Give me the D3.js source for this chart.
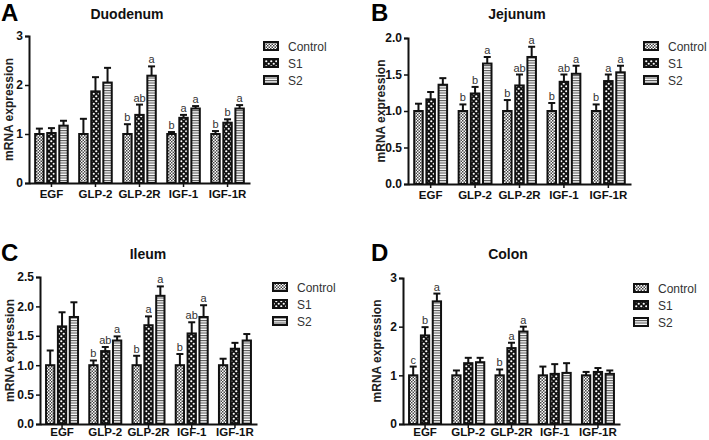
<!DOCTYPE html>
<html>
<head>
<meta charset="utf-8">
<script src="https://cdn.jsdelivr.net/npm/d3@7"></script>
<style>
  html, body { margin: 0; padding: 0; background: #fff; }
  svg { display: block; font-family: "Liberation Sans", Arial, sans-serif; }
</style>
</head>
<body>
<svg id="chart" width="709" height="440"></svg>
<script>
// ---------- DATA ----------
const categories = ["EGF", "GLP-2", "GLP-2R", "IGF-1", "IGF-1R"];
const seriesNames = ["Control", "S1", "S2"];

// Duodenum (A)
const duodenumControl = [1.0, 1.0, 1.0, 1.0, 1.0];
const duodenumS1 = [1.02, 1.87, 1.39, 1.33, 1.23];
const duodenumS2 = [1.17, 2.05, 2.19, 1.52, 1.52];
const duodenumControlErr = [0.11, 0.31, 0.2, 0.04, 0.06];
const duodenumS1Err = [0.1, 0.29, 0.21, 0.06, 0.07];
const duodenumS2Err = [0.1, 0.3, 0.19, 0.05, 0.07];
const duodenumLetters = [["", "", ""], ["", "", ""], ["b", "ab", "a"], ["b", "a", "a"], ["b", "b", "a"]];
const duodenumTicks = [0, 1, 2, 3];

// Jejunum (B)
const jejunumControl = [1.0, 1.0, 1.0, 1.0, 1.0];
const jejunumS1 = [1.16, 1.24, 1.35, 1.4, 1.41];
const jejunumS2 = [1.36, 1.65, 1.74, 1.51, 1.53];
const jejunumControlErr = [0.1, 0.09, 0.15, 0.11, 0.09];
const jejunumS1Err = [0.1, 0.09, 0.15, 0.1, 0.09];
const jejunumS2Err = [0.09, 0.09, 0.14, 0.11, 0.09];
const jejunumLetters = [["", "", ""], ["b", "b", "a"], ["b", "ab", "a"], ["b", "ab", "a"], ["b", "a", "a"]];
const jejunumTicks = [0, 0.5, 1.0, 1.5, 2.0];

// Ileum (C)
const ileumControl = [1.0, 1.0, 1.0, 1.0, 1.0];
const ileumS1 = [1.66, 1.24, 1.68, 1.54, 1.28];
const ileumS2 = [1.82, 1.42, 2.18, 1.82, 1.42];
const ileumControlErr = [0.25, 0.08, 0.16, 0.19, 0.11];
const ileumS1Err = [0.24, 0.07, 0.15, 0.19, 0.1];
const ileumS2Err = [0.25, 0.07, 0.16, 0.2, 0.11];
const ileumLetters = [["", "", ""], ["b", "ab", "a"], ["b", "a", "a"], ["b", "ab", "a"], ["", "", ""]];
const ileumTicks = [0, 0.5, 1.0, 1.5, 2.0, 2.5];

// Colon (D)
const colonControl = [1.0, 1.0, 1.0, 1.0, 1.0];
const colonS1 = [1.82, 1.25, 1.56, 1.03, 1.07];
const colonS2 = [2.52, 1.27, 1.9, 1.05, 1.03];
const colonControlErr = [0.18, 0.1, 0.12, 0.18, 0.07];
const colonS1Err = [0.17, 0.11, 0.11, 0.2, 0.08];
const colonS2Err = [0.16, 0.09, 0.1, 0.2, 0.07];
const colonLetters = [["c", "b", "a"], ["", "", ""], ["b", "a", "a"], ["", "", ""], ["", "", ""]];
const colonTicks = [0, 1, 2, 3];

// ---------- PATTERNS ----------
const svg = d3.select("#chart");
const defs = svg.append("defs");

// Control: fine checker
const pCtrl = defs.append("pattern").attr("id", "pCtrl").attr("patternUnits", "userSpaceOnUse")
  .attr("width", 3).attr("height", 3);
pCtrl.append("rect").attr("width", 3).attr("height", 3).attr("fill", "#fff");
pCtrl.append("rect").attr("x", 0).attr("y", 0).attr("width", 1.5).attr("height", 1.5).attr("fill", "#444");
pCtrl.append("rect").attr("x", 1.5).attr("y", 1.5).attr("width", 1.5).attr("height", 1.5).attr("fill", "#444");

// S1: coarse checker
const pS1 = defs.append("pattern").attr("id", "pS1").attr("patternUnits", "userSpaceOnUse")
  .attr("width", 5).attr("height", 5);
pS1.append("rect").attr("width", 5).attr("height", 5).attr("fill", "#111");
pS1.append("circle").attr("cx", 1.25).attr("cy", 1.25).attr("r", 1.1).attr("fill", "#fff");
pS1.append("circle").attr("cx", 3.75).attr("cy", 3.75).attr("r", 1.1).attr("fill", "#fff");

// S2: horizontal stripes
const pS2 = defs.append("pattern").attr("id", "pS2").attr("patternUnits", "userSpaceOnUse")
  .attr("width", 4).attr("height", 2.5);
pS2.append("rect").attr("width", 4).attr("height", 2.5).attr("fill", "#fff");
pS2.append("rect").attr("y", 0).attr("width", 4).attr("height", 1.1).attr("fill", "#555");

const fills = ["url(#pCtrl)", "url(#pS1)", "url(#pS2)"];

// ---------- PANEL DRAW ----------
function drawPanel(cfg) {
  const g = svg.append("g");
  const series = [cfg.control, cfg.s1, cfg.s2];
  const errs = [cfg.controlErr, cfg.s1Err, cfg.s2Err];
  const yMax = cfg.ticks[cfg.ticks.length - 1];

  const x0 = d3.scaleBand().domain(categories).range([cfg.left, cfg.right])
    .paddingInner(0.26).paddingOuter(0.14);
  const x1 = d3.scaleBand().domain(seriesNames).range([0, x0.bandwidth()]).paddingInner(0.3);
  const y = d3.scaleLinear().domain([0, yMax]).range([cfg.bottom, cfg.top]);

  // panel letter
  g.append("text").attr("x", cfg.letterX).attr("y", cfg.letterY)
    .attr("font-size", 24).attr("font-weight", "bold").attr("fill", "#000").text(cfg.letter);
  // title
  g.append("text").attr("x", cfg.titleX).attr("y", cfg.titleY).attr("text-anchor", "middle")
    .attr("font-size", 14).attr("font-weight", "bold").attr("fill", "#111").text(cfg.title);

  // bars
  categories.forEach((cat, ci) => {
    seriesNames.forEach((s, si) => {
      const v = series[si][ci];
      const e = errs[si][ci];
      const bx = x0(cat) + x1(s);
      const bw = x1.bandwidth();
      g.append("rect")
        .attr("x", bx).attr("y", y(v))
        .attr("width", bw).attr("height", y(0) - y(v))
        .attr("fill", fills[si]).attr("stroke", "#111").attr("stroke-width", 2);
      const cx = bx + bw / 2;
      g.append("line").attr("x1", cx).attr("x2", cx).attr("y1", y(v)).attr("y2", y(v + e))
        .attr("stroke", "#111").attr("stroke-width", 2);
      g.append("line").attr("x1", cx - 3.5).attr("x2", cx + 3.5).attr("y1", y(v + e)).attr("y2", y(v + e))
        .attr("stroke", "#111").attr("stroke-width", 2);
      const lt = cfg.letters[ci][si];
      if (lt) {
        g.append("text").attr("x", cx).attr("y", y(v + e) - 3).attr("text-anchor", "middle")
          .attr("font-size", 11).attr("fill", "#333").text(lt);
      }
    });
  });

  // y axis
  const yAxis = d3.axisLeft(y).tickValues(cfg.ticks).tickSize(4).tickPadding(2)
    .tickFormat(cfg.fmt);
  const ya = g.append("g").attr("transform", `translate(${cfg.left},0)`).call(yAxis);
  ya.select(".domain").attr("stroke", "#111").attr("stroke-width", 2);
  ya.selectAll(".tick line").attr("stroke", "#111").attr("stroke-width", 1.5);
  ya.selectAll(".tick text").attr("font-size", 12).attr("font-weight", "bold").attr("fill", "#111")
    .attr("font-family", "Liberation Sans, Arial, sans-serif");

  // x axis
  const xAxis = d3.axisBottom(x0).tickSize(4).tickPadding(cfg.xPad).tickSizeOuter(0);
  const xa = g.append("g").attr("transform", `translate(0,${cfg.bottom})`).call(xAxis);
  xa.select(".domain").attr("stroke", "#111").attr("stroke-width", 2);
  xa.selectAll(".tick line").attr("stroke", "#111").attr("stroke-width", 1.5);
  xa.selectAll(".tick text").attr("font-size", 11.5).attr("font-weight", "bold").attr("fill", "#111")
    .attr("font-family", "Liberation Sans, Arial, sans-serif");

  // y label
  g.append("text")
    .attr("transform", `translate(${cfg.ylabX},${(cfg.top + cfg.bottom) / 2}) rotate(-90)`)
    .attr("text-anchor", "middle").attr("font-size", 12).attr("font-weight", "bold").attr("fill", "#222")
    .text("mRNA expression");

  // legend
  seriesNames.forEach((s, si) => {
    const ly = cfg.legY + si * 17;
    g.append("rect").attr("x", cfg.legX).attr("y", ly - 4).attr("width", 14).attr("height", 8)
      .attr("fill", fills[si]).attr("stroke", "#111").attr("stroke-width", 2);
    g.append("text").attr("x", cfg.legX + 24).attr("y", ly + 4.5)
      .attr("font-size", 12).attr("fill", "#333").text(s);
  });
}

drawPanel({
  letter: "A", letterX: 1, letterY: 21, title: "Duodenum", titleX: 127, titleY: 19,
  left: 29, right: 250, top: 36, bottom: 183, ticks: duodenumTicks, fmt: d3.format("d"),
  control: duodenumControl, s1: duodenumS1, s2: duodenumS2,
  controlErr: duodenumControlErr, s1Err: duodenumS1Err, s2Err: duodenumS2Err,
  letters: duodenumLetters, ylabX: 13, legX: 264, legY: 46, xPad: 3
});
drawPanel({
  letter: "B", letterX: 371, letterY: 21, title: "Jejunum", titleX: 517, titleY: 19,
  left: 408, right: 631, top: 38, bottom: 184, ticks: jejunumTicks, fmt: d3.format(".1f"),
  control: jejunumControl, s1: jejunumS1, s2: jejunumS2,
  controlErr: jejunumControlErr, s1Err: jejunumS1Err, s2Err: jejunumS2Err,
  letters: jejunumLetters, ylabX: 385, legX: 644, legY: 46, xPad: 3
});
drawPanel({
  letter: "C", letterX: 1, letterY: 261, title: "Ileum", titleX: 148, titleY: 259,
  left: 40, right: 257, top: 277, bottom: 424, ticks: ileumTicks, fmt: d3.format(".1f"),
  control: ileumControl, s1: ileumS1, s2: ileumS2,
  controlErr: ileumControlErr, s1Err: ileumS1Err, s2Err: ileumS2Err,
  letters: ileumLetters, ylabX: 14, legX: 273, legY: 287, xPad: 0
});
drawPanel({
  letter: "D", letterX: 371, letterY: 261, title: "Colon", titleX: 508, titleY: 259,
  left: 403, right: 620, top: 278, bottom: 424, ticks: colonTicks, fmt: d3.format("d"),
  control: colonControl, s1: colonS1, s2: colonS2,
  controlErr: colonControlErr, s1Err: colonS1Err, s2Err: colonS2Err,
  letters: colonLetters, ylabX: 381, legX: 634, legY: 288, xPad: 0
});
</script>
</body>
</html>
